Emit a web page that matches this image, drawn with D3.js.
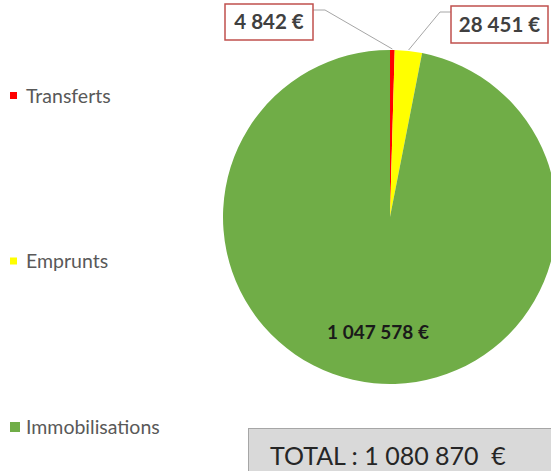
<!DOCTYPE html>
<html>
<head>
<meta charset="utf-8">
<script src="https://cdn.jsdelivr.net/npm/d3@7"></script>
<style>
  body { margin: 0; background: #fff; }
  svg { display: block; }
</style>
</head>
<body>
<div id="chart"></div>
<script>
// data
var categories = ["Transferts", "Emprunts", "Immobilisations"]
var values = [4842, 28451, 1047578]
var valueLabels = ["4 842 €", "28 451 €", "1 047 578 €"]
var totalLabel = "TOTAL : 1 080 870  €"

var width = 551,
    height = 471,
    radius = 167,
    cx = 390,
    cy = 217

var color = d3.scaleOrdinal()
  .domain(categories)
  .range(["#ff0000", "#ffff00", "#70ad47"])

var svg = d3.select("#chart")
  .append("svg")
    .attr("width", width)
    .attr("height", height)

var g = svg.append("g")
    .attr("transform", "translate(" + cx + "," + cy + ")")

// keep the order of the data, first slice starts at 12 o'clock
var pie = d3.pie()
  .sort(null)
  .value(function(d) { return d.value })

var data_ready = pie(categories.map(function(c, i) { return { key: c, value: values[i], label: valueLabels[i] } }))

var arc = d3.arc()
  .innerRadius(0)
  .outerRadius(radius)

g.selectAll("slices")
  .data(data_ready)
  .enter()
  .append("path")
  .attr("d", arc)
  .attr("fill", function(d) { return color(d.data.key) })

// big slice label inside
var big = data_ready[2]
g.append("text")
  .attr("x", -12)
  .attr("y", 122)
  .attr("text-anchor", "middle")
  .style("font-family", "Lato, 'Open Sans', sans-serif")
  .style("font-weight", "bold")
  .style("font-size", "19px")
  .style("fill", "#1a1a1a")
  .text(big.data.label)

// callout boxes for the two small slices (offsets relative to the slice edge)
var callouts = [
  { slice: data_ready[0], box: [-165, -213, 88, 36], elbow: -12, side: "right" },
  { slice: data_ready[1], box: [61, -211, 97, 37], elbow: 11, side: "left" }
]

callouts.forEach(function(c) {
  var mid = (c.slice.startAngle + c.slice.endAngle) / 2
  var px = Math.sin(mid) * (radius + 1)
  var py = -Math.cos(mid) * (radius + 1)
  var b = c.box
  var ex = c.side === "right" ? b[0] + b[2] : b[0]
  var ey = b[1] + 6
  g.append("polyline")
    .attr("points", [[ex, ey], [ex - c.elbow, ey], [px, py]].map(function(p) { return p.join(",") }).join(" "))
    .attr("fill", "none")
    .attr("stroke", "#a6a6a6")
    .attr("stroke-width", 1)
  g.append("rect")
    .attr("x", b[0]).attr("y", b[1])
    .attr("width", b[2]).attr("height", b[3])
    .attr("fill", "#fff")
    .attr("stroke", "#c0504d")
    .attr("stroke-width", 1.5)
  g.append("text")
    .attr("x", b[0] + b[2] / 2)
    .attr("y", b[1] + b[3] / 2 + 7)
    .attr("text-anchor", "middle")
    .style("font-family", "Lato, 'Open Sans', sans-serif")
    .style("font-weight", "bold")
    .style("font-size", "20.5px")
    .style("fill", "#404040")
    .text(c.slice.data.label)
})

// legend down the left side
var legend = svg.selectAll("legend")
  .data(categories)
  .enter()
  .append("g")
  .attr("transform", function(d, i) { return "translate(10," + (96 + i * 165.5) + ")" })

legend.append("rect")
  .attr("x", 0)
  .attr("y", function(d, i) { return i === 2 ? -5 : -4 })
  .attr("width", function(d, i) { return i === 2 ? 10 : 7 })
  .attr("height", function(d, i) { return i === 2 ? 10 : 7 })
  .attr("fill", function(d) { return color(d) })

legend.append("text")
  .attr("x", 16)
  .attr("y", 6.5)
  .style("font-family", "Lato, 'Open Sans', sans-serif")
  .style("font-size", "19.5px")
  .style("fill", "#595959")
  .text(function(d) { return d })

// total box bottom right
svg.append("rect")
  .attr("x", 248.5)
  .attr("y", 428.5)
  .attr("width", 320)
  .attr("height", 60)
  .attr("fill", "#d9d9d9")
  .attr("stroke", "#a6a6a6")
  .attr("stroke-width", 1)

svg.append("text")
  .attr("x", 270)
  .attr("y", 465)
  .style("font-family", "Lato, 'Open Sans', sans-serif")
  .style("font-size", "25px")
  .style("fill", "#262626")
  .style("white-space", "pre")
  .text(totalLabel)
</script>
</body>
</html>
